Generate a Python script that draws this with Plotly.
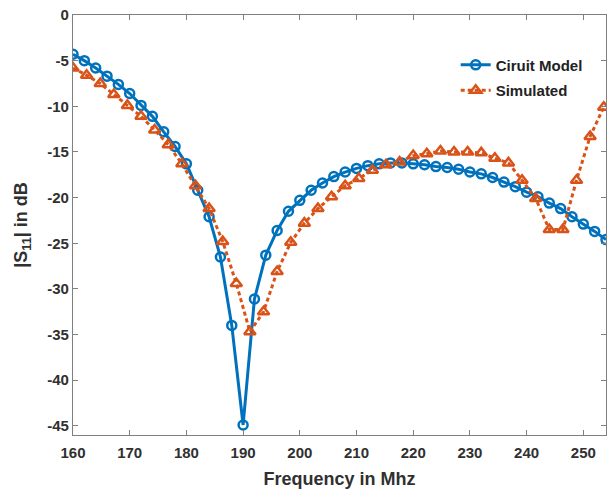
import plotly.graph_objects as go

# Circuit model: 160..254 MHz step 2
freq_model = [160, 162, 164, 166, 168, 170, 172, 174, 176, 178, 180, 182, 184, 186, 188, 190,
              192, 194, 196, 198, 200, 202, 204, 206, 208, 210, 212, 214, 216, 218, 220, 222,
              224, 226, 228, 230, 232, 234, 236, 238, 240, 242, 244, 246, 248, 250, 252, 254]
s11_model = [-4.3, -5.0, -5.8, -6.7, -7.6, -8.6, -9.9, -11.1, -12.8, -14.4, -16.3, -19.2, -22.1,
             -26.5, -34.0, -44.9, -31.1, -26.3, -23.6, -21.5, -20.3, -19.2, -18.4, -17.7, -17.2,
             -16.8, -16.5, -16.3, -16.2, -16.2, -16.3, -16.4, -16.6, -16.7, -16.9, -17.2, -17.4,
             -17.8, -18.3, -18.8, -19.4, -19.9, -20.6, -21.2, -22.1, -22.9, -23.7, -24.6]

# Simulated: 160..253.6 MHz step 2.4
freq_sim = [160.0, 162.4, 164.8, 167.2, 169.6, 172.0, 174.4, 176.8, 179.2, 181.6, 184.0, 186.4,
            188.8, 191.2, 193.6, 196.0, 198.4, 200.8, 203.2, 205.6, 208.0, 210.4, 212.8, 215.2,
            217.6, 220.0, 222.4, 224.8, 227.2, 229.6, 232.0, 234.4, 236.8, 239.2, 241.6, 244.0,
            246.4, 248.8, 251.2, 253.6]
s11_sim = [-5.8, -6.6, -7.5, -8.7, -9.9, -11.1, -12.6, -14.2, -16.3, -18.7, -21.2, -24.8,
           -29.4, -34.7, -32.5, -28.1, -24.9, -22.8, -21.2, -19.9, -18.7, -17.9, -17.0, -16.4,
           -16.1, -15.4, -15.2, -14.9, -15.0, -15.0, -15.1, -15.7, -16.2, -18.1, -20.1, -23.5,
           -23.5, -18.1, -13.3, -10.1]

x_ticks = [160, 170, 180, 190, 200, 210, 220, 230, 240, 250]
y_ticks = [0, -5, -10, -15, -20, -25, -30, -35, -40, -45]

BLUE = "#0072BD"
ORANGE = "#D95319"
FONT = "Arial, Liberation Sans, sans-serif"
TXT = "#303030"

fig = go.Figure()
fig.add_trace(go.Scatter(
    x=freq_model, y=s11_model, mode="lines+markers", name="Ciruit Model",
    legendgroup="a",
    line=dict(color=BLUE, width=3),
    marker=dict(symbol="circle-open", size=9, color=BLUE, line=dict(width=2.5, color=BLUE)),
))
fig.add_trace(go.Scatter(
    x=freq_sim, y=s11_sim, mode="lines+markers", name="Simulated",
    legendgroup="b",
    line=dict(color=ORANGE, width=3, dash="4px,3px"),
    marker=dict(symbol="triangle-up-open", size=10, color=ORANGE, line=dict(width=2.5, color=ORANGE)),
))

axis_common = dict(
    showline=True, linecolor="#7f7f7f", linewidth=1.3, mirror="allticks",
    ticks="inside", ticklen=5, tickwidth=1.3, tickcolor="#7f7f7f",
    showgrid=False, zeroline=False,
    tickfont=dict(family=FONT, size=15, color=TXT, weight="bold"),
)

fig.update_xaxes(range=[160, 254], tickvals=x_ticks, ticktext=[str(v) for v in x_ticks],
                 ticklabelstandoff=4,
                 **axis_common,
                 title=dict(text="Frequency in Mhz", standoff=12,
                            font=dict(family=FONT, size=18, color=TXT, weight="bold")))
fig.update_yaxes(range=[-46, 0], tickvals=y_ticks, ticktext=[str(v) for v in y_ticks],
                 **axis_common,
                 title=dict(text="|S<sub>11</sub>| in dB", standoff=14,
                            font=dict(family=FONT, size=18, color=TXT, weight="bold")))

fig.update_layout(
    width=607, height=490,
    margin=dict(l=73, r=1, t=15, b=55),
    paper_bgcolor="white", plot_bgcolor="white",
    showlegend=True,
    legend=dict(x=0.718, y=0.92, xanchor="left", yanchor="top",
                bgcolor="rgba(255,255,255,0)", borderwidth=0,
                font=dict(family=FONT, size=15, color="#222222", weight="bold"),
                tracegroupgap=3, itemwidth=30),
)

fig.write_html("out.html")
